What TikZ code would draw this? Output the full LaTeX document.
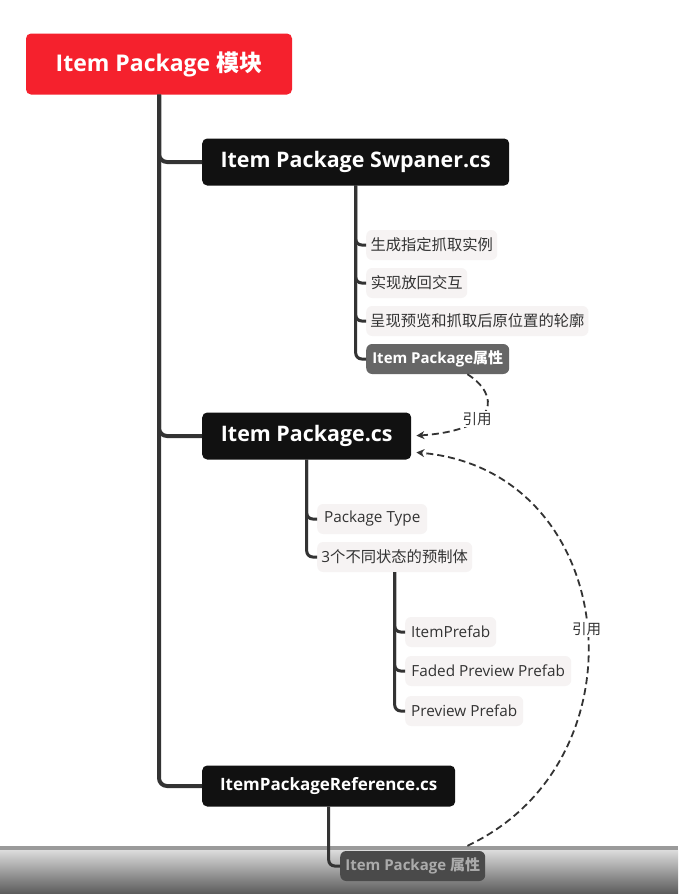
\documentclass[tikz,border=0pt]{standalone}
\usepackage{fontspec}
\setmainfont{Open Sans}
\newfontfamily\cjk{Noto Sans CJK SC}
\usetikzlibrary{arrows.meta}
\definecolor{rootred}{HTML}{F5212D}
\definecolor{nodeblack}{HTML}{111111}
\definecolor{leafbg}{HTML}{F6F3F3}
\definecolor{textdark}{HTML}{333333}
\definecolor{propgray}{HTML}{666666}
\definecolor{linedark}{HTML}{333333}
\definecolor{bandtop}{HTML}{DCDCDC}
\definecolor{bandbot}{HTML}{5A5A5A}
\definecolor{bandline}{HTML}{9A9A9A}
\definecolor{fadegray}{HTML}{4A4A4A}
\definecolor{fadetext}{HTML}{ABABAB}
\begin{document}
\begin{tikzpicture}[x=1pt,y=-1pt,
  rootbox/.style={fill=rootred, rounded corners=5pt, text=white,
    font=\fontsize{23}{26}\selectfont\bfseries, inner xsep=4pt,
    minimum height=61pt, minimum width=266pt},
  mainbox/.style={fill=nodeblack, rounded corners=5pt, text=white,
    font=\fontsize{21.4}{24}\selectfont\bfseries, inner xsep=4pt,
    minimum height=47pt, anchor=west},
  leafbox/.style={fill=leafbg, rounded corners=6pt, text=textdark,
    font=\fontsize{15.3}{17}\selectfont, inner xsep=4pt,
    minimum height=30pt, anchor=west},
  propbox/.style={leafbox, fill=propgray, text=white,
    font=\fontsize{15}{17}\selectfont\bfseries},
  treeline/.style={draw=linedark, line width=4pt, rounded corners=8pt},
  subline/.style={draw=linedark, line width=3pt, rounded corners=6pt},
  refline/.style={draw=linedark, line width=1.8pt, dash pattern=on 7pt off 4pt,
    -{Stealth[length=8pt,width=8pt]}, shorten >=5pt},
  reflabel/.style={fill=white, inner sep=1.5pt, text=textdark,
    font=\fontsize{14.5}{16}\selectfont\cjk}
]
\useasboundingbox (0,0) rectangle (678,894);
\fill[white] (0,0) rectangle (678,894);
% bottom band
\shade[top color=bandtop, bottom color=bandbot] (0,850) rectangle (678,894);
\fill[bandline] (0,846) rectangle (678,850);

% nodes
\node[rootbox] (root) at (159,64) {Item Package {\cjk 模块}};
\node[mainbox, minimum width=307pt] (swp) at (202,162) {Item Package Swpaner.cs};
\node[mainbox, minimum width=209pt] (ipc) at (202,436) {Item Package.cs};
\node[mainbox, minimum width=253pt, minimum height=41pt,
  font=\fontsize{17}{19}\selectfont\bfseries] (ipr) at (202,786) {ItemPackageReference.cs};

\node[leafbox, minimum width=131pt] (s1) at (366,245) {\cjk 生成指定抓取实例};
\node[leafbox, minimum width=101pt] (s2) at (366,283) {\cjk 实现放回交互};
\node[leafbox, minimum width=219pt] (s3) at (366,321) {\cjk 呈现预览和抓取后原位置的轮廓};
\node[propbox, minimum width=143pt] (s4) at (366,359) {Item Package{\cjk 属性}};

\node[leafbox, minimum width=110pt] (c1) at (317,519) {Package Type};
\node[leafbox, minimum width=155pt] (c2) at (317,557) {3{\cjk 个不同状态的预制体}};

\node[leafbox, minimum width=91pt] (p1) at (405,632) {ItemPrefab};
\node[leafbox, minimum width=166pt] (p2) at (405,671) {Faded Preview Prefab};
\node[leafbox, minimum width=118pt] (p3) at (405,711) {Preview Prefab};

\node[propbox, minimum width=145pt, fill=fadegray, text=fadetext] (r1) at (340,866) {Item Package {\cjk 属性}};

% tree connectors
\draw[treeline] (root.south) |- (swp.west);
\draw[treeline] (root.south) |- (ipc.west);
\draw[treeline] (root.south) |- (ipr.west);

\draw[subline] (swp.south) |- (s1.west);
\draw[subline] (swp.south) |- (s2.west);
\draw[subline] (swp.south) |- (s3.west);
\draw[subline] (swp.south) |- (s4.west);

\draw[subline] (ipc.south) |- (c1.west);
\draw[subline] (ipc.south) |- (c2.west);

\draw[subline] (c2.south) |- (p1.west);
\draw[subline] (c2.south) |- (p2.west);
\draw[subline] (c2.south) |- (p3.west);

\draw[subline] (ipr.south) |- (r1.west);

% reference connectors
\draw[refline] ([xshift=-42pt]s4.south east) .. controls (500,395) and (500,430) .. (ipc.east)
  node[reflabel, pos=0.62] {引用};
\draw[refline] ([xshift=-18pt,yshift=5pt]r1.north east) .. controls (650,760) and (620,470) .. ([yshift=-16pt]ipc.east)
  node[reflabel, pos=0.49] {引用};
\end{tikzpicture}
\end{document}
